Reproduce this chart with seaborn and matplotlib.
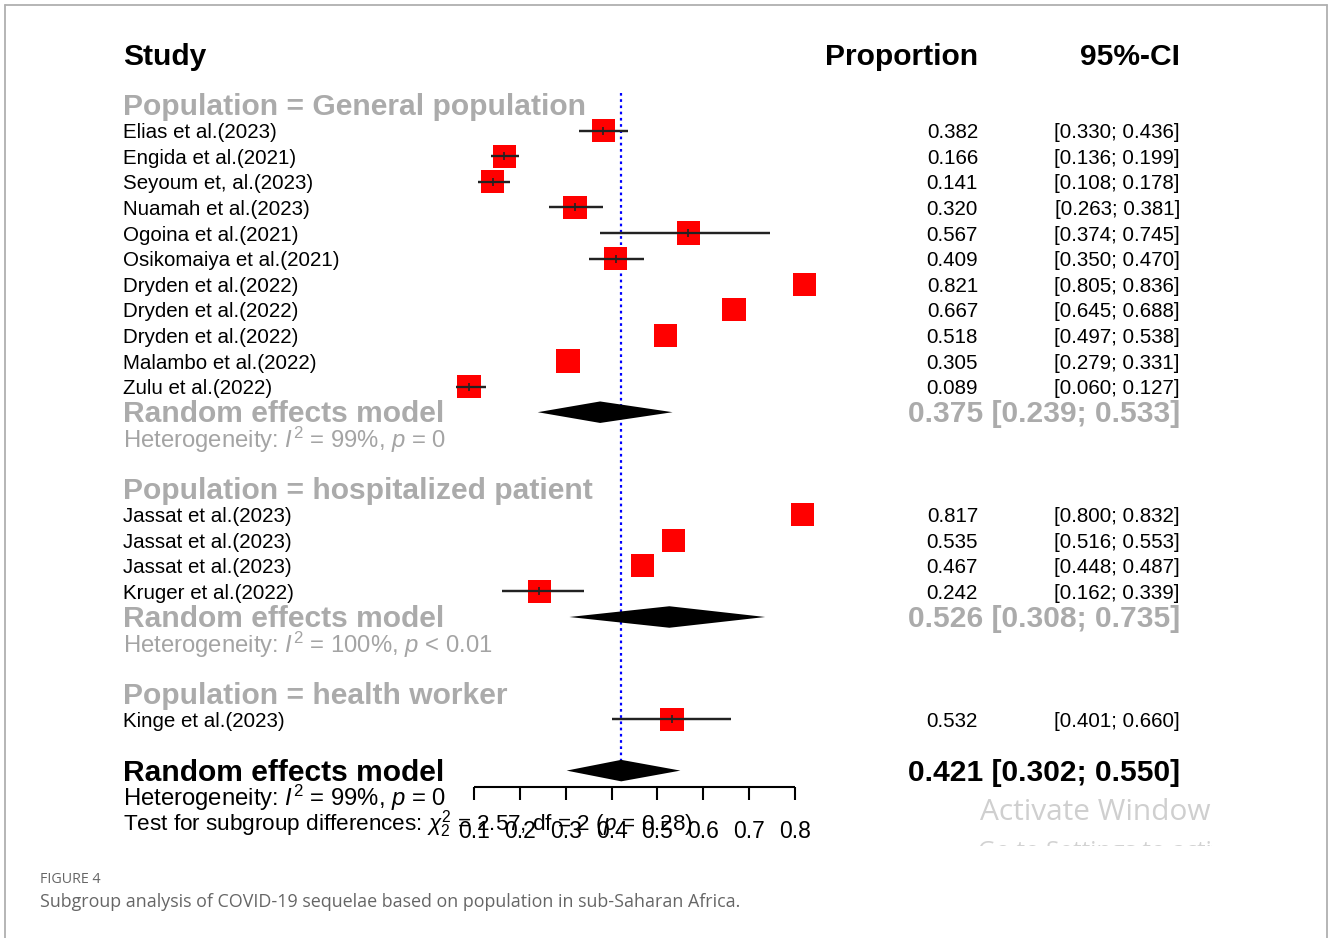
import numpy as np
import pandas as pd
import matplotlib
matplotlib.use("Agg")
import matplotlib.pyplot as plt
import seaborn as sns
from matplotlib.transforms import Bbox
from matplotlib import font_manager as fm

# ---------------- data ----------------
studies = ["Elias et al.(2023)", "Engida et al.(2021)", "Seyoum et, al.(2023)",
           "Nuamah et al.(2023)", "Ogoina et al.(2021)", "Osikomaiya et al.(2021)",
           "Dryden et al.(2022)", "Dryden et al.(2022)", "Dryden et al.(2022)",
           "Malambo et al.(2022)", "Zulu et al.(2022)",
           "Jassat et al.(2023)", "Jassat et al.(2023)", "Jassat et al.(2023)",
           "Kruger et al.(2022)",
           "Kinge et al.(2023)"]
proportion = [0.382, 0.166, 0.141, 0.320, 0.567, 0.409, 0.821, 0.667, 0.518, 0.305, 0.089,
              0.817, 0.535, 0.467, 0.242,
              0.532]
ci_lower = [0.330, 0.136, 0.108, 0.263, 0.374, 0.350, 0.805, 0.645, 0.497, 0.279, 0.060,
            0.800, 0.516, 0.448, 0.162,
            0.401]
ci_upper = [0.436, 0.199, 0.178, 0.381, 0.745, 0.470, 0.836, 0.688, 0.538, 0.331, 0.127,
            0.832, 0.553, 0.487, 0.339,
            0.660]
population = ["General population"] * 11 + ["hospitalized patient"] * 4 + ["health worker"]

group_names = ["General population", "hospitalized patient", "health worker"]
group_re = [0.375, 0.526, None]
group_re_lower = [0.239, 0.308, None]
group_re_upper = [0.533, 0.735, None]
group_het = [r"Heterogeneity: $I^2$ = 99%, $p$ = 0",
             r"Heterogeneity: $I^2$ = 100%, $p$ < 0.01", None]

overall_re = 0.421
overall_lower = 0.302
overall_upper = 0.550
overall_het = r"Heterogeneity: $I^2$ = 99%, $p$ = 0"
subgroup_test = r"Test for subgroup differences: $\chi^2_2$ = 2.57, df = 2 ($p$ = 0.28)"

x_ticks = [0.1, 0.2, 0.3, 0.4, 0.5, 0.6, 0.7, 0.8]
x_tick_labels = ["0.1", "0.2", "0.3", "0.4", "0.5", "0.6", "0.7", "0.8"]

caption_label = "FIGURE 4"
caption_text = "Subgroup analysis of COVID-19 sequelae based on population in sub-Saharan Africa."

# ---------------- style ----------------
sns.set_theme(style="white")
FONT = "Liberation Sans"
plt.rcParams["font.family"] = [FONT, "DejaVu Sans"]
plt.rcParams["mathtext.fontset"] = "custom"
plt.rcParams["mathtext.rm"] = FONT
plt.rcParams["mathtext.it"] = FONT + ":italic"
plt.rcParams["mathtext.bf"] = FONT + ":bold"

LAB_FAM = [FONT, "DejaVu Sans"]
SMALL = 14.8

W, H = 1328, 938
fig = plt.figure(figsize=(W / 100, H / 100), dpi=100)
ax = fig.add_axes([0, 0, 1, 1])

# pixel -> data mapping (layout)
X0_PX, PX_PER_UNIT = 474.0, 458.6
ROW0_PX, ROW_PX = 105.0, 25.6


def px2x(px):
    return 0.1 + (px - X0_PX) / PX_PER_UNIT


def px2k(py):
    return (py - ROW0_PX) / ROW_PX


GRAY = "#a4a4a4"
GRAY_H = "#ababab"
BIG = 21.6
HET = 17.2
DY = 0.08  # small downward nudge of text

# ---------------- row layout ----------------
rows = []
group_rows = []
k = 0
for gi, g in enumerate(group_names):
    idx = [i for i, p in enumerate(population) if p == g]
    header_k = k
    study_ks = list(range(k + 1, k + 1 + len(idx)))
    for i, sk in zip(idx, study_ks):
        rows.append((i, sk))
    k = k + 1 + len(idx)
    if group_re[gi] is not None:
        re_k, het_k = k, k + 1
        k += 3
    else:
        re_k, het_k = None, None
        k += 1
    group_rows.append((header_k, re_k, het_k))
overall_k = k
order = [i for i, _ in rows]
df = pd.DataFrame({
    "study": [studies[i] for i in order],
    "prop": [proportion[i] for i in order],
    "lo": [ci_lower[i] for i in order],
    "hi": [ci_upper[i] for i in order],
    "row": [r for _, r in rows],
})

# ---------------- reference line ----------------
ax.vlines(overall_re, -0.47, overall_k - 0.3, colors="#0000ff", linestyles=(0, (1.2, 1.6)),
          linewidth=1.6, zorder=1)

# ---------------- CI lines + squares ----------------
inside_limit = 0.055
ax.hlines(df["row"], df["lo"], df["hi"], colors="#222222", linewidth=1.6, zorder=2)
sns.scatterplot(data=df, x="prop", y="row", marker="s", s=280, color="#ff0000",
                edgecolor="none", linewidth=0, ax=ax, zorder=3, legend=False)
wide = df[(df["hi"] - df["lo"]) > inside_limit]
ax.hlines(wide["row"], wide["lo"], wide["hi"], colors="#222222", linewidth=1.6, zorder=4)
ax.vlines(wide["prop"], wide["row"] - 0.16, wide["row"] + 0.16, colors="#222222",
          linewidth=1.2, zorder=4)


def diamond(est, lo, hi, kk, h=0.42):
    ax.fill([lo, est, hi, est], [kk, kk - h, kk, kk + h], color="black", lw=0, zorder=5)


ax.set_xlim(px2x(0), px2x(W))
ax.set_ylim(px2k(H), px2k(0))
ax.set_axis_off()

x_label = px2x(123)
x_prop_r = px2x(978)
x_ci_r = px2x(1180)

# ---------------- headers ----------------
ax.text(x_label, px2k(55) + DY, "Study", fontsize=BIG, fontweight="bold", color="black",
        ha="left", va="center")
ax.text(x_prop_r, px2k(55) + DY, "Proportion", fontsize=BIG, fontweight="bold", color="black",
        ha="right", va="center")
ax.text(x_ci_r, px2k(55) + DY, "95%-CI", fontsize=BIG, fontweight="bold", color="black",
        ha="right", va="center")

# ---------------- groups ----------------
for gi, g in enumerate(group_names):
    header_k, re_k, het_k = group_rows[gi]
    ax.text(x_label, header_k + DY, "Population = " + g, fontsize=BIG, fontweight="bold",
            color=GRAY_H, ha="left", va="center")
    if re_k is not None:
        ax.text(x_label, re_k + DY, "Random effects model", fontsize=BIG, fontweight="bold",
                color=GRAY_H, ha="left", va="center")
        ax.text(x_ci_r, re_k + DY,
                f"{group_re[gi]:.3f} [{group_re_lower[gi]:.3f}; {group_re_upper[gi]:.3f}]",
                fontsize=BIG, fontweight="bold", color=GRAY_H, ha="right", va="center")
        ax.text(x_label, het_k + DY, group_het[gi], fontsize=HET, color=GRAY, ha="left",
                va="center")
        diamond(group_re[gi], group_re_lower[gi], group_re_upper[gi], re_k)

for _, r in df.iterrows():
    ax.text(x_label, r["row"] + DY, r["study"], fontsize=SMALL, family=LAB_FAM,
            color="black", ha="left", va="center")
    ax.text(x_prop_r, r["row"] + DY, f"{r['prop']:.3f}", fontsize=SMALL, family=LAB_FAM,
            color="black", ha="right", va="center")
    ax.text(x_ci_r, r["row"] + DY, f"[{r['lo']:.3f}; {r['hi']:.3f}]", fontsize=SMALL,
            family=LAB_FAM, color="black", ha="right", va="center")

# ---------------- overall ----------------
diamond(overall_re, overall_lower, overall_upper, overall_k)
ax.text(x_label, overall_k + DY, "Random effects model", fontsize=BIG, fontweight="bold",
        color="black", ha="left", va="center")
ax.text(x_ci_r, overall_k + DY, f"{overall_re:.3f} [{overall_lower:.3f}; {overall_upper:.3f}]",
        fontsize=BIG, fontweight="bold", color="black", ha="right", va="center")
ax.text(x_label, overall_k + 1 + DY, overall_het, fontsize=HET, color="black", ha="left",
        va="center")
ax.text(x_label, overall_k + 2 + DY, subgroup_test, fontsize=HET - 1.0, color="black",
        ha="left", va="center")

# ---------------- x axis ----------------
axis_k = px2k(787)
tick_k = px2k(800)
ax.hlines(axis_k, x_ticks[0], x_ticks[-1], colors="black", linewidth=1.5, zorder=6)
ax.vlines(x_ticks, axis_k, tick_k, colors="black", linewidth=1.5, zorder=6)
for t, lab in zip(x_ticks, x_tick_labels):
    ax.text(t, px2k(831), lab, fontsize=16.5, family=LAB_FAM,
            color="black", ha="center", va="center")

# ---------------- watermark (screenshot) ----------------
wm_clip = Bbox.from_extents(0, H - 846, 1212, H)
t1 = fig.text(980 / W, 1 - 812 / H, "Activate Windows", fontsize=21.5, color="#cfcfcf",
              family=["Open Sans", "DejaVu Sans"], ha="left", va="center")
t1.set_clip_box(Bbox.from_extents(0, 0, 1212, H))
t1.set_clip_on(True)
t2 = fig.text(978 / W, 1 - 858 / H, "Go to Settings to activate Windows.", fontsize=17.5,
              color="#d2d2d2", family=["Open Sans", "DejaVu Sans"], ha="left", va="baseline")
t2.set_clip_box(wm_clip)
t2.set_clip_on(True)

# ---------------- caption ----------------
fig.text(40 / W, 1 - 879 / H, caption_label, fontsize=10.3, color="#666666",
         family=["Open Sans", "DejaVu Sans"], ha="left", va="center")
fig.text(40 / W, 1 - 902 / H, caption_text, fontsize=12.9, color="#666666",
         family=["Open Sans", "DejaVu Sans"], ha="left", va="center")

# ---------------- frame ----------------
fc = "#b0b0b0"
fig.add_artist(plt.Line2D([4.5 / W, 1327 / W], [1 - 5 / H, 1 - 5 / H], color=fc, lw=1.3,
                          transform=fig.transFigure))
fig.add_artist(plt.Line2D([4.5 / W, 4.5 / W], [1 - 5 / H, 0], color=fc, lw=1.3,
                          transform=fig.transFigure))
fig.add_artist(plt.Line2D([1327 / W, 1327 / W], [1 - 5 / H, 0], color=fc, lw=1.3,
                          transform=fig.transFigure))

fig.savefig("out.png", dpi=100)
